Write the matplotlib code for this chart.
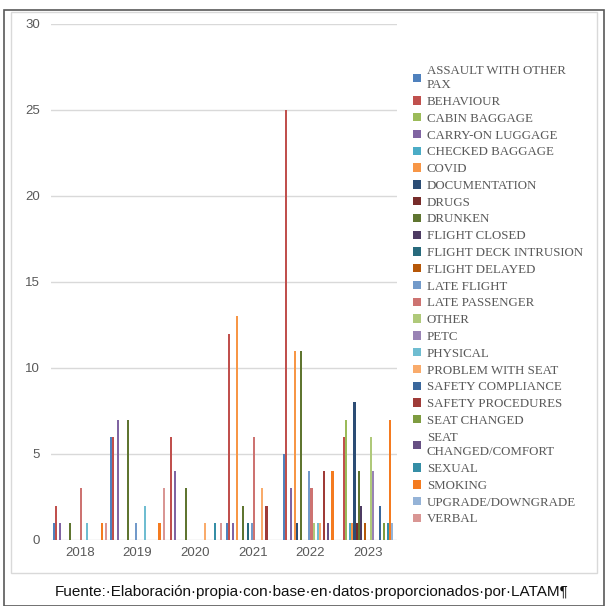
import matplotlib.pyplot as plt
import numpy as np
from matplotlib.patches import Rectangle

years = ["2018", "2019", "2020", "2021", "2022", "2023"]

categories = [
    "ASSAULT WITH OTHER\nPAX", "BEHAVIOUR", "CABIN BAGGAGE", "CARRY-ON LUGGAGE",
    "CHECKED BAGGAGE", "COVID", "DOCUMENTATION", "DRUGS", "DRUNKEN",
    "FLIGHT CLOSED", "FLIGHT DECK INTRUSION", "FLIGHT DELAYED", "LATE FLIGHT",
    "LATE PASSENGER", "OTHER", "PETC", "PHYSICAL", "PROBLEM WITH SEAT",
    "SAFETY COMPLIANCE", "SAFETY PROCEDURES", "SEAT CHANGED",
    "SEAT\nCHANGED/COMFORT", "SEXUAL", "SMOKING", "UPGRADE/DOWNGRADE", "VERBAL",
]

# incidents per year, one list per category (2018..2023)
assault = [1, 6, 0, 1, 5, 0]
behaviour = [2, 6, 6, 12, 25, 6]
cabin_baggage = [0, 0, 0, 0, 0, 7]
carry_on = [1, 7, 4, 1, 3, 0]
checked_baggage = [0, 0, 0, 0, 0, 1]
covid = [0, 0, 0, 13, 11, 1]
documentation = [0, 0, 0, 0, 1, 8]
drugs = [0, 0, 0, 0, 0, 1]
drunken = [1, 7, 3, 2, 11, 4]
flight_closed = [0, 0, 0, 0, 0, 2]
deck_intrusion = [0, 0, 0, 1, 0, 0]
flight_delayed = [0, 0, 0, 0, 0, 1]
late_flight = [0, 1, 0, 1, 4, 0]
late_passenger = [3, 0, 0, 6, 3, 0]
other = [0, 0, 0, 0, 1, 6]
petc = [0, 0, 0, 0, 0, 4]
physical = [1, 2, 0, 0, 1, 0]
problem_seat = [0, 0, 1, 3, 1, 0]
safety_compliance = [0, 0, 0, 0, 0, 2]
safety_procedures = [0, 0, 0, 2, 4, 0]
seat_changed = [0, 0, 0, 0, 0, 1]
seat_comfort = [0, 0, 0, 0, 1, 0]
sexual = [0, 0, 1, 0, 0, 1]
smoking = [1, 1, 0, 0, 4, 7]
upgrade = [0, 0, 0, 0, 0, 1]
verbal = [1, 3, 1, 0, 0, 0]

series = [
    assault, behaviour, cabin_baggage, carry_on, checked_baggage, covid,
    documentation, drugs, drunken, flight_closed, deck_intrusion,
    flight_delayed, late_flight, late_passenger, other, petc, physical,
    problem_seat, safety_compliance, safety_procedures, seat_changed,
    seat_comfort, sexual, smoking, upgrade, verbal,
]

colors = [
    "#4F81BD", "#C0504D", "#9BBB59", "#8064A2", "#4BACC6", "#F79646",
    "#2C4D75", "#772C2A", "#5F7530", "#4D3B62", "#276A7C", "#B65708",
    "#729ACA", "#CD7371", "#AFC97A", "#9983B5", "#6FBDD1", "#F9AB6B",
    "#3A679C", "#9F3B38", "#7E9C40", "#664F83", "#358EA6", "#F47B20",
    "#95B3D7", "#D99694",
]

fig = plt.figure(figsize=(6.08, 6.06), dpi=100)

# document frame and chart frame
fig.add_artist(Rectangle((4 / 608, 0), 600 / 608, 596 / 606, transform=fig.transFigure,
                         fill=False, edgecolor="#595959", linewidth=1.2))
fig.add_artist(Rectangle((11 / 608, 33 / 606), 586 / 608, 561 / 606, transform=fig.transFigure,
                         fill=False, edgecolor="#d9d9d9", linewidth=1.0))

ax = fig.add_axes([51 / 608, 1 - 540 / 606, 346 / 608, 516 / 606])

n = len(series)
width = 1 / (n + 1.5)
x = np.arange(len(years))
for i, (vals, col, name) in enumerate(zip(series, colors, categories)):
    ax.bar(x + (i - (n - 1) / 2) * width, vals, width=width, color=col,
           label=name, linewidth=0)

ax.set_xlim(-0.5, len(years) - 0.5)
ax.set_ylim(0, 30)
ax.set_yticks(range(0, 31, 5))
ax.set_xticks(x)
ax.set_xticklabels(years)
ax.yaxis.grid(True, color="#d9d9d9", linewidth=1.0)
ax.set_axisbelow(True)
for s in ax.spines.values():
    s.set_visible(False)
ax.tick_params(axis="both", length=0, colors="#595959", labelsize=9.5,
               labelfontfamily="Liberation Sans")
ax.tick_params(axis="y", pad=8)
ax.tick_params(axis="x", pad=5)

leg = fig.legend(loc="center left", bbox_to_anchor=(413 / 608, 1 - 295 / 606), frameon=False,
                 prop={"family": "Liberation Serif", "size": 9.3}, labelcolor="#595959",
                 handlelength=0.62, handleheight=0.62, handletextpad=0.45,
                 labelspacing=0.37, borderpad=0, borderaxespad=0)
for t in leg.get_texts():
    t.set_linespacing(1.3)

fig.text(0.513, 1 - 592 / 606,
         "Fuente:·Elaboración·propia·con·base·en·datos·proporcionados·por·LATAM¶",
         ha="center", va="center", fontsize=11, family="Liberation Sans", color="#111111")

fig.savefig("out.png", dpi=100)
